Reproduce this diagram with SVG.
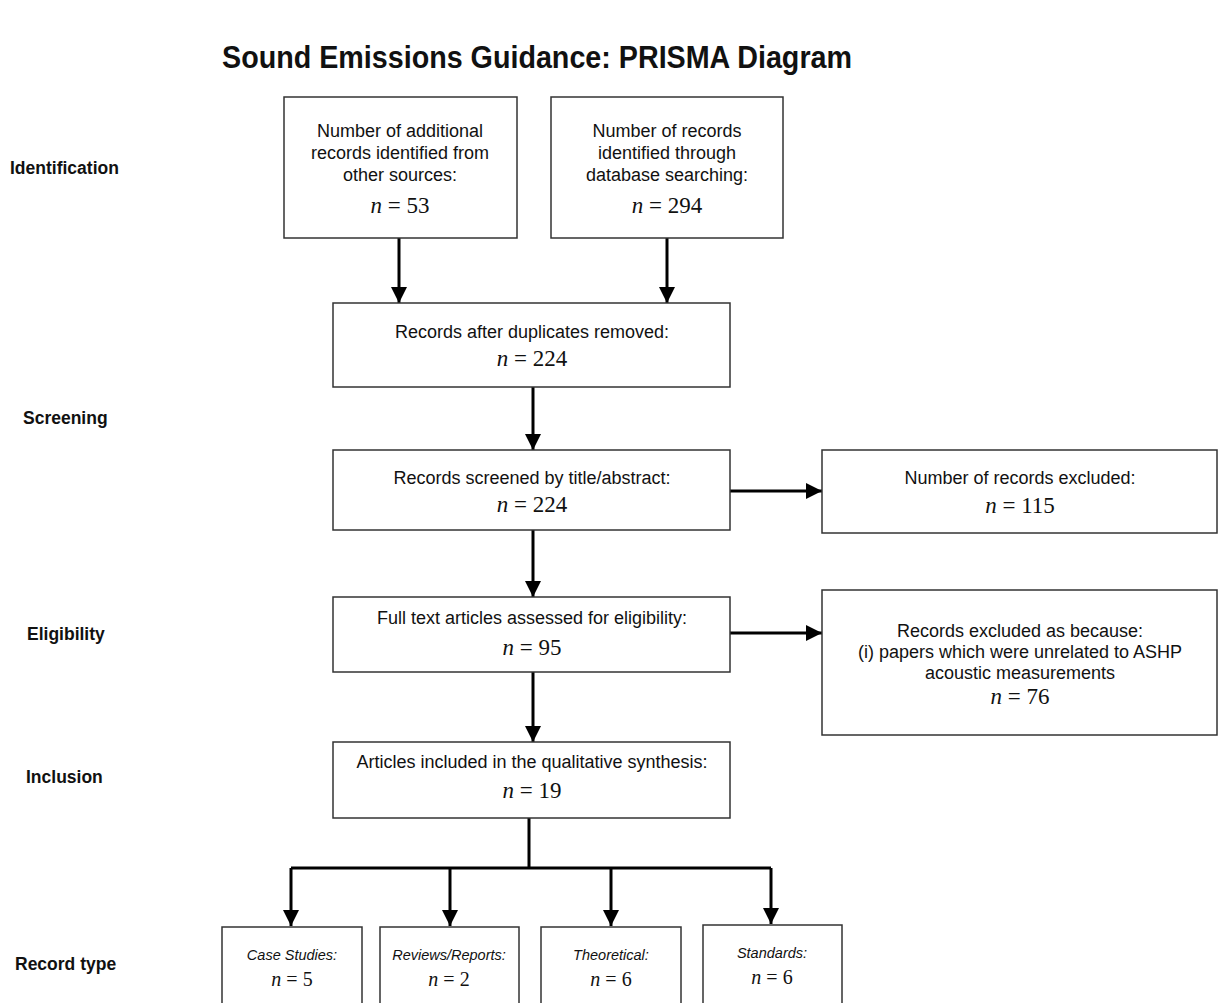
<svg xmlns="http://www.w3.org/2000/svg" width="1218" height="1003" viewBox="0 0 1218 1003">
<style>
.box{fill:#fff;stroke:#333;stroke-width:1.5}
.t{font-family:"Liberation Sans",Arial,sans-serif;font-size:18px;fill:#111;text-anchor:middle}
.ti{font-family:"Liberation Sans",Arial,sans-serif;font-size:14.5px;font-style:italic;fill:#111;text-anchor:middle}
.n{font-family:"Liberation Serif","Times New Roman",serif;font-size:23px;fill:#111;text-anchor:middle}
.ns{font-family:"Liberation Serif","Times New Roman",serif;font-size:20px;fill:#111;text-anchor:middle}
.lab{font-family:"Liberation Sans",Arial,sans-serif;font-size:17.5px;font-weight:bold;fill:#111}
.title{font-family:"Liberation Sans",Arial,sans-serif;font-size:32px;font-weight:bold;fill:#111;text-anchor:middle}
.c{stroke:#000;stroke-width:3;fill:none}
</style>
<defs>
<marker id="ah" markerUnits="userSpaceOnUse" markerWidth="16" markerHeight="18" refX="16" refY="8" orient="auto">
<path d="M0,0 L16,8 L0,16 Z" fill="#000"/>
</marker>
</defs>
<rect width="1218" height="1003" fill="#fff"/>
<text class="title" x="537" y="68" textLength="630" lengthAdjust="spacingAndGlyphs">Sound Emissions Guidance: PRISMA Diagram</text>
<g id="stage-labels">
<text class="lab" x="10" y="174">Identification</text>
<text class="lab" x="23" y="424">Screening</text>
<text class="lab" x="27" y="640">Eligibility</text>
<text class="lab" x="26" y="783">Inclusion</text>
<text class="lab" x="15" y="970">Record type</text>
</g>
<g id="connectors">
<path class="c" d="M399,238 V303" marker-end="url(#ah)"/>
<path class="c" d="M667,238 V303" marker-end="url(#ah)"/>
<path class="c" d="M533,387 V450" marker-end="url(#ah)"/>
<path class="c" d="M533,530 V597" marker-end="url(#ah)"/>
<path class="c" d="M730,491 H822" marker-end="url(#ah)"/>
<path class="c" d="M533,672 V742" marker-end="url(#ah)"/>
<path class="c" d="M730,633 H822" marker-end="url(#ah)"/>
<path class="c" d="M529,818 V868 M291,868 H771"/>
<path class="c" d="M291,868 V926" marker-end="url(#ah)"/>
<path class="c" d="M450,868 V926" marker-end="url(#ah)"/>
<path class="c" d="M611,868 V926" marker-end="url(#ah)"/>
<path class="c" d="M771,868 V924" marker-end="url(#ah)"/>
</g>
<g id="n-additional">
<rect class="box" x="284" y="97" width="233" height="141"/>
<text class="t" x="400" y="137">Number of additional</text>
<text class="t" x="400" y="159">records identified from</text>
<text class="t" x="400" y="181">other sources:</text>
<text class="n" x="400" y="213"><tspan font-style="italic">n</tspan> = 53</text>
</g>
<g id="n-database">
<rect class="box" x="551" y="97" width="232" height="141"/>
<text class="t" x="667" y="137">Number of records</text>
<text class="t" x="667" y="159">identified through</text>
<text class="t" x="667" y="181">database searching:</text>
<text class="n" x="667" y="213"><tspan font-style="italic">n</tspan> = 294</text>
</g>
<g id="n-dedup">
<rect class="box" x="333" y="303" width="397" height="84"/>
<text class="t" x="532" y="338">Records after duplicates removed:</text>
<text class="n" x="532" y="366"><tspan font-style="italic">n</tspan> = 224</text>
</g>
<g id="n-screened">
<rect class="box" x="333" y="450" width="397" height="80"/>
<text class="t" x="532" y="484">Records screened by title/abstract:</text>
<text class="n" x="532" y="512"><tspan font-style="italic">n</tspan> = 224</text>
</g>
<g id="n-excluded">
<rect class="box" x="822" y="450" width="395" height="83"/>
<text class="t" x="1020" y="484">Number of records excluded:</text>
<text class="n" x="1020" y="513"><tspan font-style="italic">n</tspan> = 115</text>
</g>
<g id="n-fulltext">
<rect class="box" x="333" y="597" width="397" height="75"/>
<text class="t" x="532" y="624">Full text articles assessed for eligibility:</text>
<text class="n" x="532" y="655"><tspan font-style="italic">n</tspan> = 95</text>
</g>
<g id="n-excluded2">
<rect class="box" x="822" y="590" width="395" height="145"/>
<text class="t" x="1020" y="637">Records excluded as because:</text>
<text class="t" x="1020" y="658">(i) papers which were unrelated to ASHP</text>
<text class="t" x="1020" y="679">acoustic measurements</text>
<text class="n" x="1020" y="704"><tspan font-style="italic">n</tspan> = 76</text>
</g>
<g id="n-included">
<rect class="box" x="333" y="742" width="397" height="76"/>
<text class="t" x="532" y="768">Articles included in the qualitative synthesis:</text>
<text class="n" x="532" y="798"><tspan font-style="italic">n</tspan> = 19</text>
</g>
<g id="case-studies">
<rect class="box" x="222" y="927" width="140" height="90"/>
<text class="ti" x="292" y="960">Case Studies:</text>
<text class="ns" x="292" y="986"><tspan font-style="italic">n</tspan> = 5</text>
</g>
<g id="reviews">
<rect class="box" x="380" y="927" width="139" height="90"/>
<text class="ti" x="449" y="960">Reviews/Reports:</text>
<text class="ns" x="449" y="986"><tspan font-style="italic">n</tspan> = 2</text>
</g>
<g id="theoretical">
<rect class="box" x="541" y="927" width="140" height="90"/>
<text class="ti" x="611" y="960">Theoretical:</text>
<text class="ns" x="611" y="986"><tspan font-style="italic">n</tspan> = 6</text>
</g>
<g id="standards">
<rect class="box" x="703" y="925" width="139" height="90"/>
<text class="ti" x="772" y="958">Standards:</text>
<text class="ns" x="772" y="984"><tspan font-style="italic">n</tspan> = 6</text>
</g>
</svg>
